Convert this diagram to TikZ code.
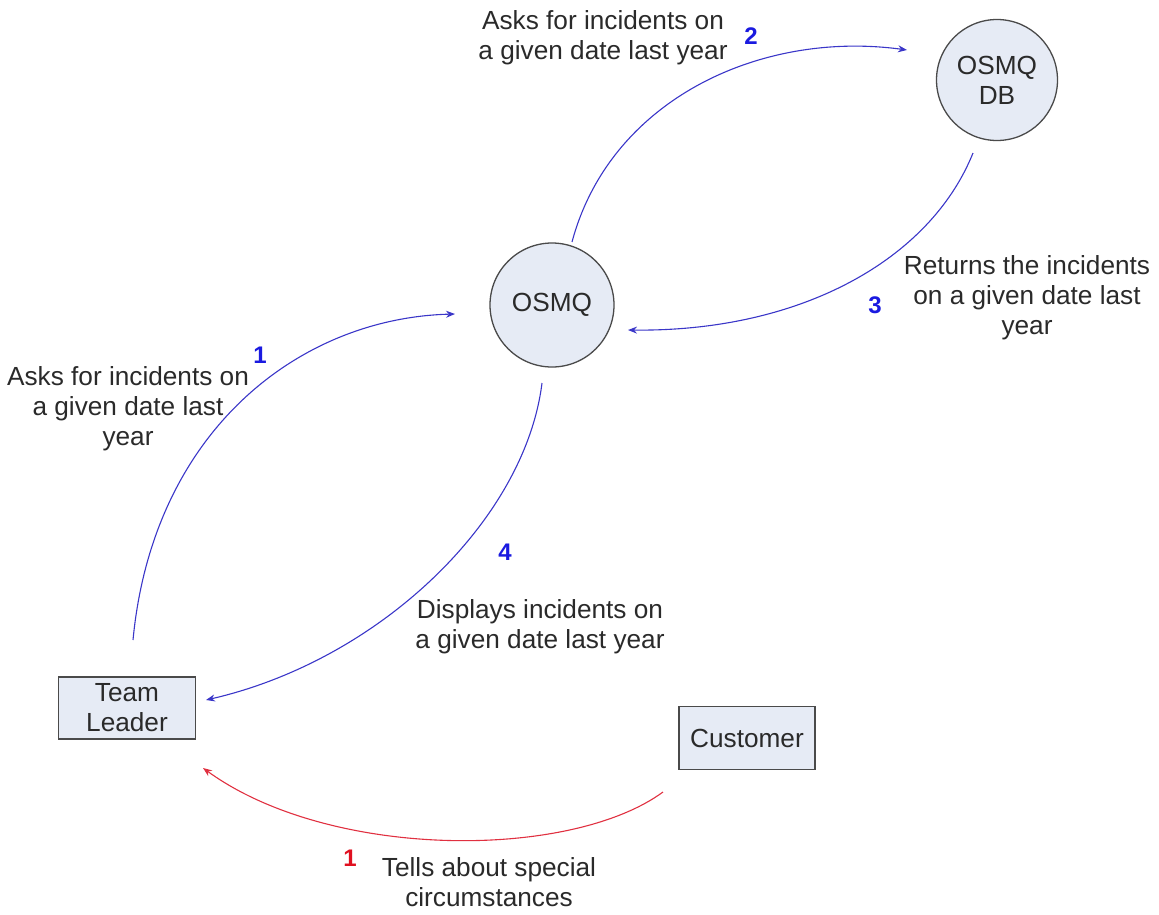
\documentclass[tikz,border=0pt]{standalone}
\usepackage{fontspec}
\setmainfont{Liberation Sans}
\usetikzlibrary{arrows.meta}
\definecolor{txt}{HTML}{2A2A2A}
\definecolor{flow}{HTML}{3A36C8}
\definecolor{numblue}{HTML}{1A1AE0}
\definecolor{numred}{HTML}{E01020}
\definecolor{redflow}{HTML}{E03040}
\definecolor{nodefill}{HTML}{E6EBF5}
\definecolor{nodeline}{HTML}{4A4A4A}
\begin{document}
\begin{tikzpicture}[x=1pt,y=-1pt,
  every node/.style={text=txt,font=\fontsize{26.2}{30}\selectfont},
  proc/.style={circle,draw=nodeline,line width=1.3pt,fill=nodefill,minimum size=124pt,inner sep=0pt,align=center},
  ent/.style={rectangle,draw=nodeline,line width=1.6pt,fill=nodefill,minimum width=137pt,minimum height=62pt,inner sep=0pt,align=center},
  lbl/.style={inner sep=0pt,align=center},
  num/.style={inner sep=0pt,font=\fontsize{24}{26}\selectfont\bfseries,text=numblue},
  flowline/.style={draw=flow,line width=1.1pt,-{Stealth[length=9pt,width=7pt]}},
  redline/.style={draw=redflow,line width=1.1pt,-{Stealth[length=9pt,width=7pt]}}]
\path[use as bounding box] (0,0) rectangle (1159,914);

% nodes
\node[proc] (osmq) at (552,305) {OSMQ};
\node[proc,minimum size=121pt] (db) at (997,80) {OSMQ\\DB};
\node[ent] (tl) at (127,708) {Team\\Leader};
\node[ent,minimum width=136pt,minimum height=63pt] (cust) at (747,738) {Customer};

% connector ends
\coordinate (a1s) at (133,640);
\coordinate (a1e) at (455,314);
\coordinate (a2s) at (572,242);
\coordinate (a2e) at (907,50);
\coordinate (a3s) at (973,153);
\coordinate (a3e) at (628,330);
\coordinate (a4s) at (542,383);
\coordinate (a4e) at (206,700);
\coordinate (r1s) at (663,792);
\coordinate (r1e) at (203,768);

% connectors
\draw[flowline] (a1s) .. controls (153,430) and (300,318) .. (a1e);
\draw[flowline] (a2s) .. controls (610,100) and (760,30) .. (a2e);
\draw[flowline] (a3s) .. controls (930,260) and (800,332) .. (a3e);
\draw[flowline] (a4s) .. controls (525,520) and (380,660) .. (a4e);
\draw[redline] (r1s) .. controls (570,860) and (330,860) .. (r1e);

% labels
\node[lbl] (l2) at (603,38) {Asks for incidents on\\a given date last year};
\node[num] (n2) at (751,36) {2};
\node[lbl] (l3) at (1027,298) {Returns the incidents\\on a given date last\\year};
\node[num] (n3) at (875,305) {3};
\node[lbl] (l1) at (128,409) {Asks for incidents on\\a given date last\\year};
\node[num] (n1) at (260,355) {1};
\node[lbl] (l4) at (540,627) {Displays incidents on\\a given date last year};
\node[num] (n4) at (505,552) {4};
\node[lbl] (lr) at (489,882) {Tells about special\\circumstances};
\node[num,text=numred] (nr) at (350,858) {1};
\end{tikzpicture}
\end{document}
